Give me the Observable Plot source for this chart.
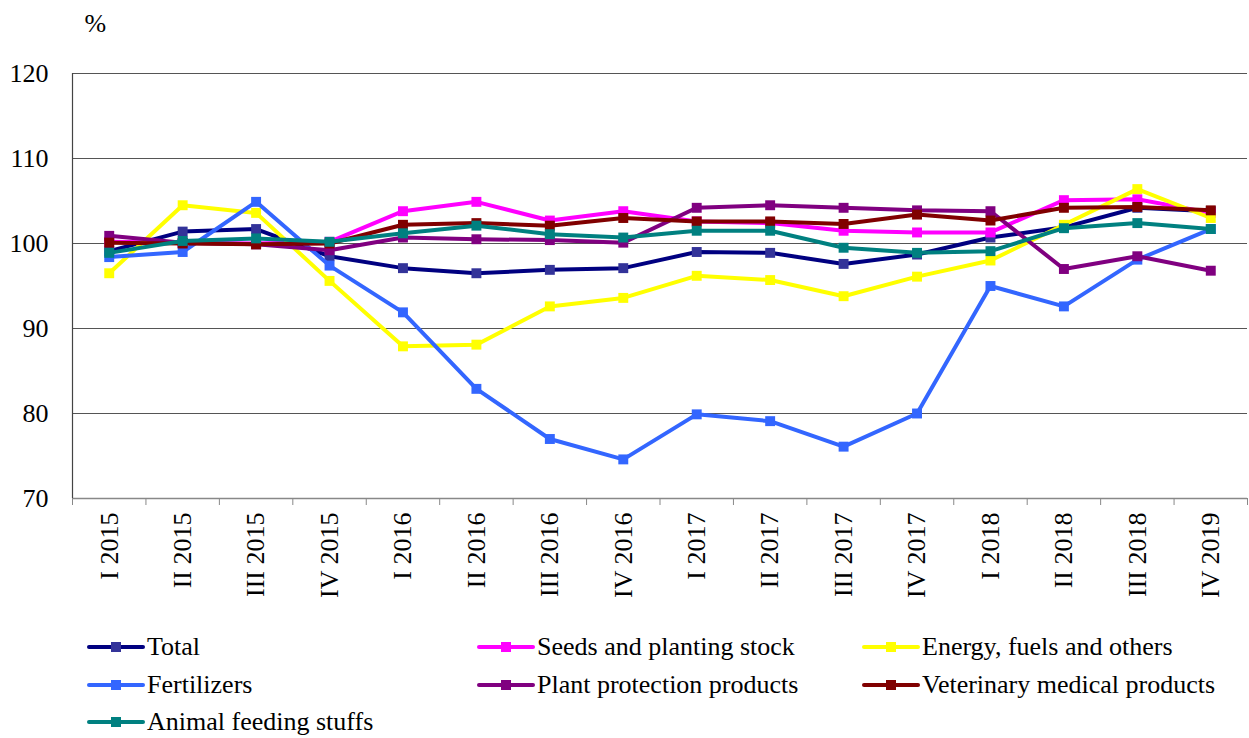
<!DOCTYPE html>
<html>
<head>
<meta charset="utf-8">
<script src="https://cdn.jsdelivr.net/npm/d3@7"></script>
<script src="https://cdn.jsdelivr.net/npm/@observablehq/plot@0.6"></script>
<style>
  html, body { margin: 0; padding: 0; background: #fff; }
  #wrap { position: relative; width: 1249px; height: 738px; font-family: "Liberation Serif", "Times New Roman", serif; }
  .leg { position: absolute; height: 30px; display: flex; align-items: center; font-size: 26px; color: #000; white-space: nowrap; }
  .sample { position: relative; width: 58px; height: 4px; margin-right: 2px; border-radius: 2px; }
  .sample i { position: absolute; left: 24px; top: -3px; width: 10px; height: 10px; }
</style>
</head>
<body>
<div id="wrap"></div>
<script>
const quarters = ["I 2015", "II 2015", "III 2015", "IV 2015", "I 2016", "II 2016", "III 2016", "IV 2016",
                  "I 2017", "II 2017", "III 2017", "IV 2017", "I 2018", "II 2018", "III 2018", "IV 2019"];
const yTicks = [70, 80, 90, 100, 110, 120];

const seriesNames = ["Total", "Seeds and planting stock", "Energy, fuels and others", "Fertilizers",
                     "Plant protection products", "Veterinary medical products", "Animal feeding stuffs"];
const lineColors   = ["#000080", "#FF00FF", "#FFFF00", "#3366FF", "#800080", "#800000", "#008080"];
const markerColors = ["#333399", "#FF00FF", "#FFFF00", "#3366FF", "#800080", "#800000", "#008080"];

const total           = [99.1, 101.4, 101.7, 98.5, 97.1, 96.5, 96.9, 97.1, 99.0, 98.9, 97.6, 98.7, 100.7, 101.9, 104.2, 103.8];
const seeds           = [100.2, 100.1, 100.0, 100.2, 103.8, 104.9, 102.7, 103.8, 102.6, 102.4, 101.5, 101.3, 101.3, 105.1, 105.2, 103.6];
const energy          = [96.5, 104.5, 103.6, 95.6, 87.9, 88.1, 92.6, 93.6, 96.2, 95.7, 93.8, 96.1, 98.0, 102.2, 106.4, 103.0];
const fertilizers     = [98.4, 99.0, 104.9, 97.4, 91.9, 82.9, 77.0, 74.6, 79.9, 79.1, 76.1, 80.0, 95.0, 92.6, 98.1, 101.7];
const plantProtection = [100.9, 100.1, 99.9, 99.2, 100.7, 100.5, 100.4, 100.1, 104.2, 104.5, 104.2, 103.9, 103.8, 97.0, 98.5, 96.8];
const veterinary      = [100.1, 100.0, 99.9, 100.0, 102.2, 102.4, 102.1, 103.0, 102.6, 102.6, 102.3, 103.4, 102.7, 104.2, 104.3, 103.9];
const animalFeeding   = [98.9, 100.3, 100.6, 100.2, 101.2, 102.1, 101.1, 100.7, 101.5, 101.5, 99.5, 98.9, 99.1, 101.8, 102.4, 101.7];

const seriesValues = [total, seeds, energy, fertilizers, plantProtection, veterinary, animalFeeding];

const seriesMarks = seriesValues.flatMap((vals, k) => {
  const rows = vals.map((v, i) => ({i, v}));
  return [
    Plot.line(rows, {x: "i", y: "v", stroke: lineColors[k], strokeWidth: 4, strokeLinejoin: "round", strokeLinecap: "round"}),
    Plot.dot(rows, {x: "i", y: "v", symbol: "square", r: 5.6, fill: markerColors[k], stroke: "none"})
  ];
});

const chart = Plot.plot({
  width: 1249,
  height: 625,
  marginTop: 73,
  marginBottom: 127,
  marginLeft: 72,
  marginRight: 2,
  style: {fontFamily: "Liberation Serif, Times New Roman, serif", fontSize: "26px", color: "#000", background: "#fff", overflow: "visible"},
  x: {domain: [-0.5, quarters.length - 0.5]},
  y: {domain: [70, 120]},
  marks: [
    Plot.ruleY(yTicks.filter(t => t > 70), {stroke: "#555", strokeWidth: 1}),
    Plot.ruleY([70], {stroke: "#888", strokeWidth: 1.5}),
    Plot.ruleX([-0.5], {stroke: "#444", strokeWidth: 1.2}),
    Plot.axisY({ticks: yTicks, tickSize: 0, tickPadding: 24, label: null, fontSize: 26}),
    Plot.axisX({ticks: quarters.map((_, i) => i), tickFormat: i => quarters[i], tickRotate: -90, tickSize: 0, tickPadding: 14, label: null, fontSize: 26}),
    Plot.axisX({ticks: d3.range(-0.5, quarters.length), tickFormat: () => "", tickSize: 7, stroke: "#888", label: null}),
    Plot.text(["%"], {frameAnchor: "top-left", text: d => d, dx: 12, dy: -60, fontSize: 26, fill: "#000"}),
    ...seriesMarks
  ]
});

const wrap = document.getElementById("wrap");
wrap.appendChild(chart);

const legendPos = [
  [87, 647], [477, 647], [862, 647],
  [87, 685], [477, 685], [862, 685],
  [87, 722]
];
seriesNames.forEach((name, k) => {
  const d = document.createElement("div");
  d.className = "leg";
  d.style.left = legendPos[k][0] + "px";
  d.style.top = (legendPos[k][1] - 15) + "px";
  d.innerHTML = `<span class="sample" style="background:${lineColors[k]}"><i style="background:${markerColors[k]}"></i></span><span>${name}</span>`;
  wrap.appendChild(d);
});
</script>
</body>
</html>
